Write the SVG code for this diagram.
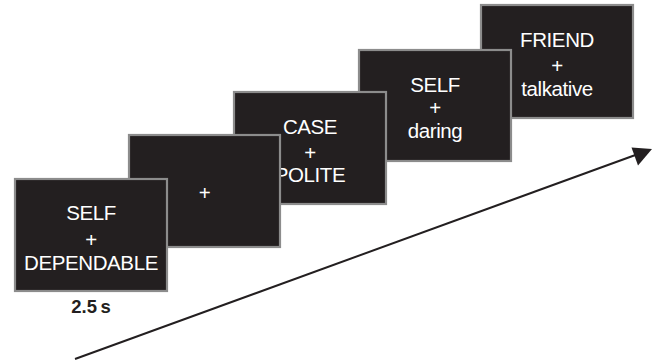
<svg xmlns="http://www.w3.org/2000/svg" width="653" height="362" viewBox="0 0 653 362">
<defs>
<style>
.box{fill:#231f20;stroke:#8c8c8c;stroke-width:2.2}
.t{fill:#ffffff;font-family:"Liberation Sans",Arial,sans-serif;font-size:20.5px;letter-spacing:-0.4px;text-anchor:middle}
.lbl{fill:#231f20;font-family:"Liberation Sans",Arial,sans-serif;font-size:18.5px;font-weight:bold;text-anchor:middle}
.conn{stroke:#231f20;stroke-width:2;fill:none}
</style>
</defs>
<rect width="653" height="362" fill="#ffffff"/>
<g id="connectors">
<line class="conn" x1="75" y1="359" x2="645" y2="151.5"/>
<path d="M652,149 L631.5,147.5 L638,165.5 Z" fill="#231f20"/>
</g>
<g id="node5">
<rect class="box" x="481" y="5" width="152" height="113"/>
<text class="t"><tspan x="557" y="47">FRIEND</tspan><tspan x="557" y="72.5">+</tspan><tspan x="557" y="95.5">talkative</tspan></text>
</g>
<g id="node4">
<rect class="box" x="359" y="50" width="152" height="111"/>
<text class="t"><tspan x="435" y="91.5">SELF</tspan><tspan x="435" y="114.5">+</tspan><tspan x="435" y="137.5">daring</tspan></text>
</g>
<g id="node3">
<rect class="box" x="234" y="92" width="152" height="112"/>
<text class="t"><tspan x="310" y="133.5">CASE</tspan><tspan x="310" y="160">+</tspan><tspan x="310" y="182">POLITE</tspan></text>
</g>
<g id="node2">
<rect class="box" x="129" y="135" width="151" height="112"/>
<text class="t" x="204.5" y="200">+</text>
</g>
<g id="node1">
<rect class="box" x="15" y="179" width="152" height="112"/>
<text class="t"><tspan x="91" y="220">SELF</tspan><tspan x="91" y="246.5">+</tspan><tspan x="91" y="269.5">DEPENDABLE</tspan></text>
<text class="lbl" x="91" y="312.5">2.5<tspan dx="3.5">s</tspan></text>
</g>
</svg>
